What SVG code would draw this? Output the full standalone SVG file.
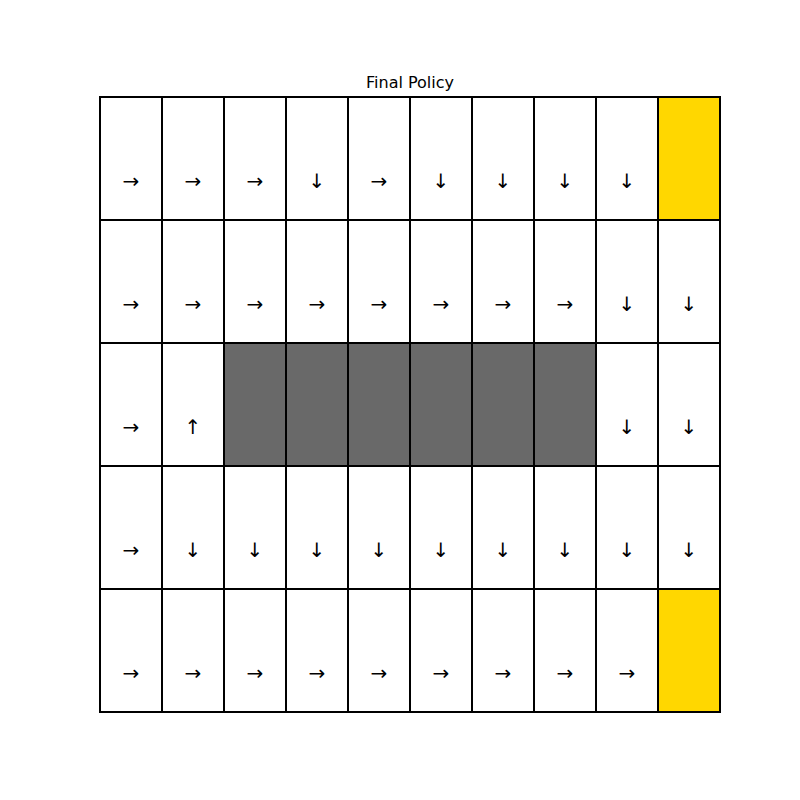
<svg xmlns="http://www.w3.org/2000/svg" width="800" height="800" viewBox="0 0 800 800">
<style>
.c{fill:#ffffff;stroke:#000000;stroke-width:2}
.g{fill:#696969;stroke:#000000;stroke-width:2}
.y{fill:#FFD700;stroke:#000000;stroke-width:2}
.a{font-family:"DejaVu Sans",sans-serif;font-size:20px;text-anchor:middle;dominant-baseline:central;fill:#000}
.t{font-family:"DejaVu Sans",sans-serif;font-size:16px;text-anchor:middle;fill:#000}
</style>
<rect width="800" height="800" fill="#ffffff"/>
<text class="t" x="410" y="88">Final Policy</text>
<g id="row0">
<rect class="c" x="100" y="97" width="62" height="123"/><text class="a" x="131" y="181">→</text>
<rect class="c" x="162" y="97" width="62" height="123"/><text class="a" x="193" y="181">→</text>
<rect class="c" x="224" y="97" width="62" height="123"/><text class="a" x="255" y="181">→</text>
<rect class="c" x="286" y="97" width="62" height="123"/><text class="a" x="317" y="181">↓</text>
<rect class="c" x="348" y="97" width="62" height="123"/><text class="a" x="379" y="181">→</text>
<rect class="c" x="410" y="97" width="62" height="123"/><text class="a" x="441" y="181">↓</text>
<rect class="c" x="472" y="97" width="62" height="123"/><text class="a" x="503" y="181">↓</text>
<rect class="c" x="534" y="97" width="62" height="123"/><text class="a" x="565" y="181">↓</text>
<rect class="c" x="596" y="97" width="62" height="123"/><text class="a" x="627" y="181">↓</text>
<rect class="y" x="658" y="97" width="62" height="123"/>
</g>
<g id="row1">
<rect class="c" x="100" y="220" width="62" height="123"/><text class="a" x="131" y="304">→</text>
<rect class="c" x="162" y="220" width="62" height="123"/><text class="a" x="193" y="304">→</text>
<rect class="c" x="224" y="220" width="62" height="123"/><text class="a" x="255" y="304">→</text>
<rect class="c" x="286" y="220" width="62" height="123"/><text class="a" x="317" y="304">→</text>
<rect class="c" x="348" y="220" width="62" height="123"/><text class="a" x="379" y="304">→</text>
<rect class="c" x="410" y="220" width="62" height="123"/><text class="a" x="441" y="304">→</text>
<rect class="c" x="472" y="220" width="62" height="123"/><text class="a" x="503" y="304">→</text>
<rect class="c" x="534" y="220" width="62" height="123"/><text class="a" x="565" y="304">→</text>
<rect class="c" x="596" y="220" width="62" height="123"/><text class="a" x="627" y="304">↓</text>
<rect class="c" x="658" y="220" width="62" height="123"/><text class="a" x="689" y="304">↓</text>
</g>
<g id="row2">
<rect class="c" x="100" y="343" width="62" height="123"/><text class="a" x="131" y="427">→</text>
<rect class="c" x="162" y="343" width="62" height="123"/><text class="a" x="193" y="427">↑</text>
<rect class="g" x="224" y="343" width="62" height="123"/>
<rect class="g" x="286" y="343" width="62" height="123"/>
<rect class="g" x="348" y="343" width="62" height="123"/>
<rect class="g" x="410" y="343" width="62" height="123"/>
<rect class="g" x="472" y="343" width="62" height="123"/>
<rect class="g" x="534" y="343" width="62" height="123"/>
<rect class="c" x="596" y="343" width="62" height="123"/><text class="a" x="627" y="427">↓</text>
<rect class="c" x="658" y="343" width="62" height="123"/><text class="a" x="689" y="427">↓</text>
</g>
<g id="row3">
<rect class="c" x="100" y="466" width="62" height="123"/><text class="a" x="131" y="550">→</text>
<rect class="c" x="162" y="466" width="62" height="123"/><text class="a" x="193" y="550">↓</text>
<rect class="c" x="224" y="466" width="62" height="123"/><text class="a" x="255" y="550">↓</text>
<rect class="c" x="286" y="466" width="62" height="123"/><text class="a" x="317" y="550">↓</text>
<rect class="c" x="348" y="466" width="62" height="123"/><text class="a" x="379" y="550">↓</text>
<rect class="c" x="410" y="466" width="62" height="123"/><text class="a" x="441" y="550">↓</text>
<rect class="c" x="472" y="466" width="62" height="123"/><text class="a" x="503" y="550">↓</text>
<rect class="c" x="534" y="466" width="62" height="123"/><text class="a" x="565" y="550">↓</text>
<rect class="c" x="596" y="466" width="62" height="123"/><text class="a" x="627" y="550">↓</text>
<rect class="c" x="658" y="466" width="62" height="123"/><text class="a" x="689" y="550">↓</text>
</g>
<g id="row4">
<rect class="c" x="100" y="589" width="62" height="123"/><text class="a" x="131" y="673">→</text>
<rect class="c" x="162" y="589" width="62" height="123"/><text class="a" x="193" y="673">→</text>
<rect class="c" x="224" y="589" width="62" height="123"/><text class="a" x="255" y="673">→</text>
<rect class="c" x="286" y="589" width="62" height="123"/><text class="a" x="317" y="673">→</text>
<rect class="c" x="348" y="589" width="62" height="123"/><text class="a" x="379" y="673">→</text>
<rect class="c" x="410" y="589" width="62" height="123"/><text class="a" x="441" y="673">→</text>
<rect class="c" x="472" y="589" width="62" height="123"/><text class="a" x="503" y="673">→</text>
<rect class="c" x="534" y="589" width="62" height="123"/><text class="a" x="565" y="673">→</text>
<rect class="c" x="596" y="589" width="62" height="123"/><text class="a" x="627" y="673">→</text>
<rect class="y" x="658" y="589" width="62" height="123"/>
</g>
</svg>
